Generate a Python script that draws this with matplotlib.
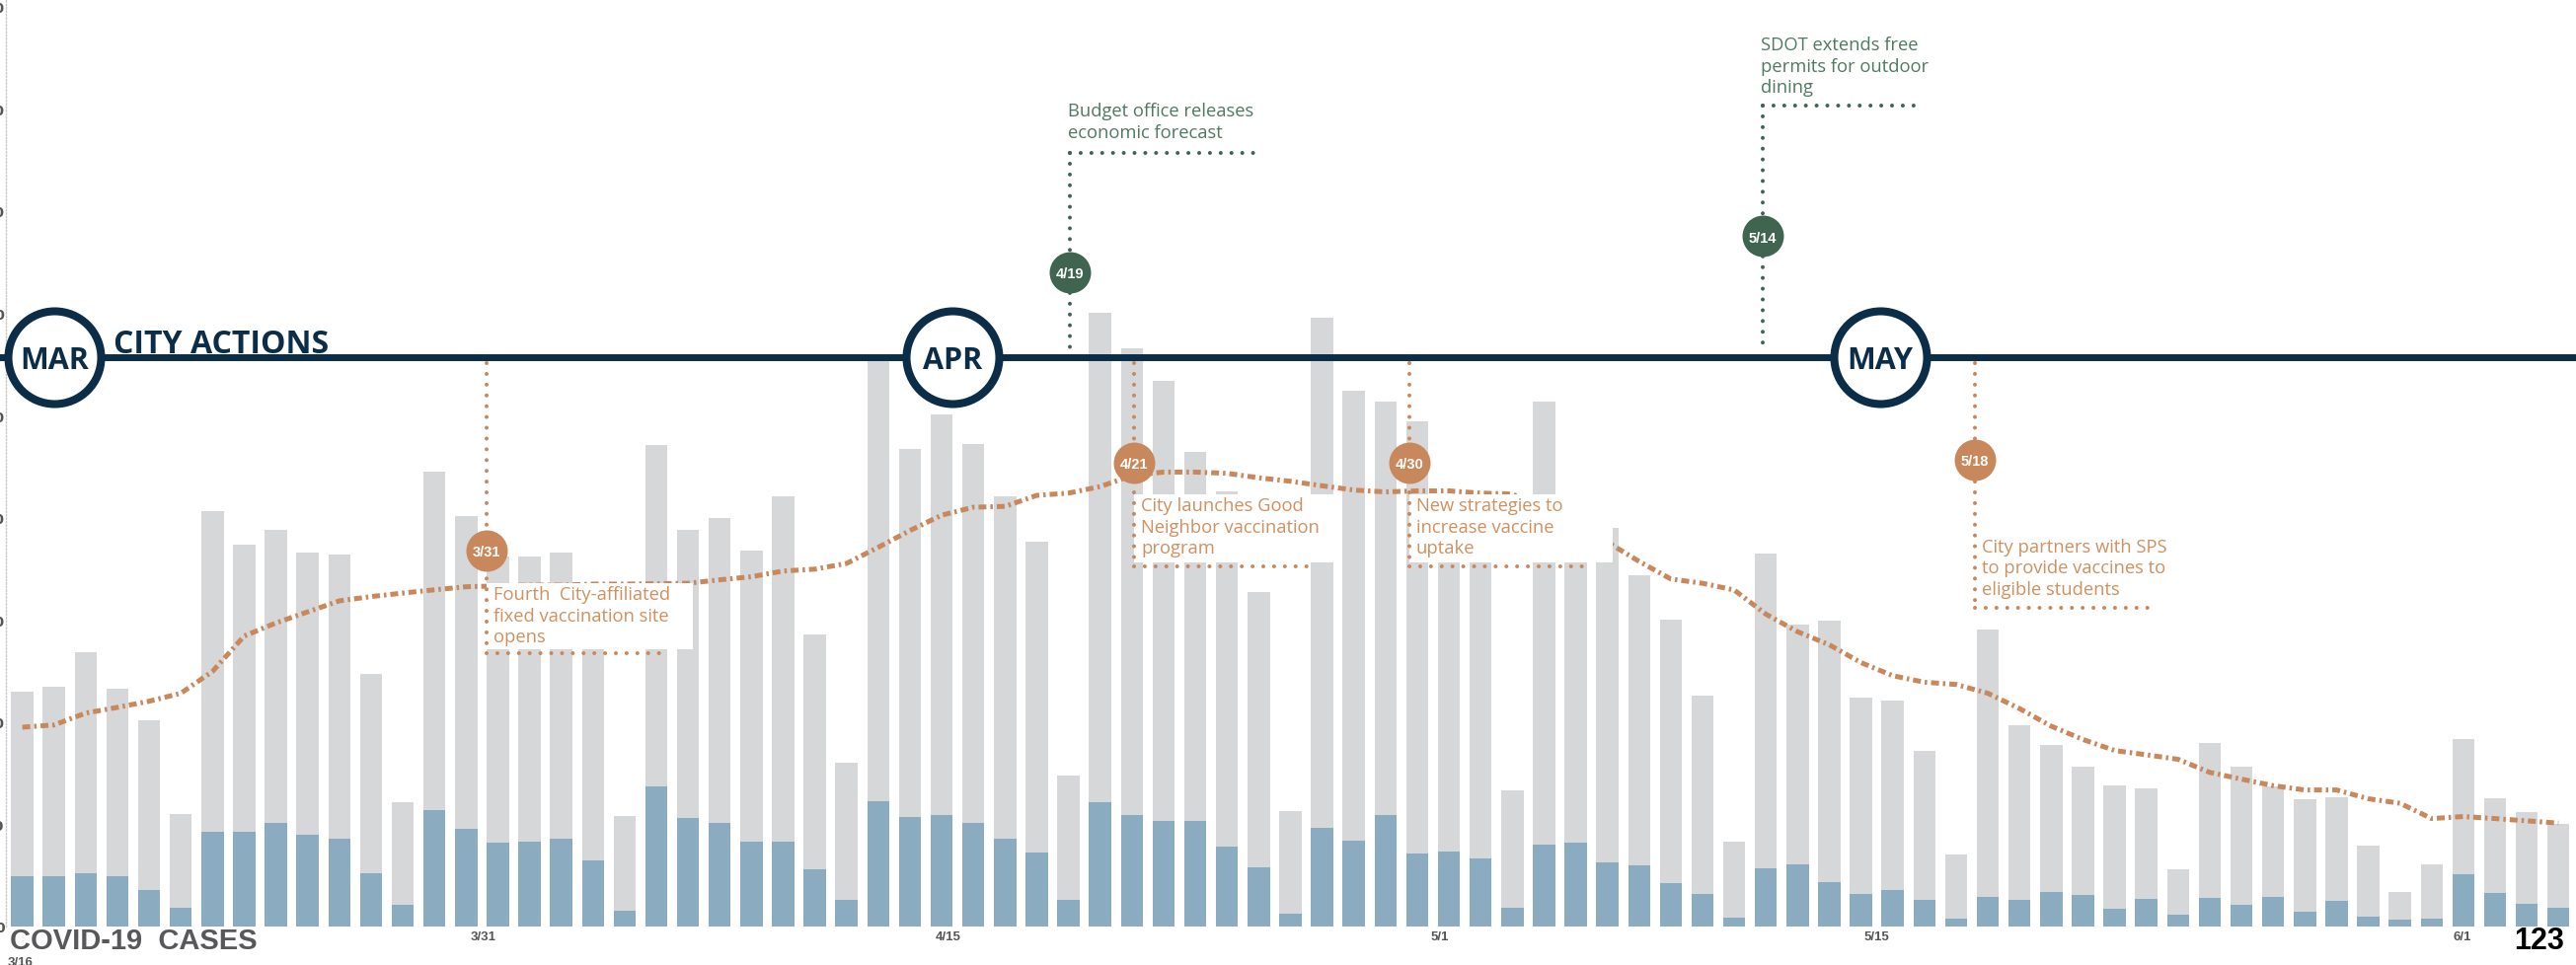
import matplotlib.pyplot as plt
from matplotlib.patches import Rectangle
from matplotlib import font_manager

# Casos diarios (barras grises), subconjunto (barras azules) y media móvil
gris = [115, 117.5, 134, 116.5, 101, 55, 203, 187, 194, 183,
        182, 123.5, 60.7, 222.5, 201, 181, 181, 183, 150, 54,
        235.4, 194, 199.7, 183.8, 210.3, 142.7, 80, 278.5, 233.5, 250.7,
        236.1, 210.3, 188, 74, 300, 282.6, 266.9, 232, 213, 163.8,
        56.6, 297.8, 262.3, 256.7, 246.9, 195, 200, 66.8, 256.7, 205,
        195, 172, 150, 112.8, 41.4, 182.3, 147.9, 149.4, 112, 110.6,
        86.1, 35.1, 145.3, 98.6, 88.7, 78.4, 68.9, 67.8, 28.2, 90,
        78.4, 68.5, 62.4, 63.3, 39.8, 16.8, 30.2, 91.5, 62.9, 56, 50]
azul = [24.8, 24.4, 26.3, 24.8, 17.9, 9.1, 46.1, 46.5, 50.6, 45,
        42.8, 26.3, 10.4, 57, 48, 40.9, 41.4, 43.1, 32.3, 7.8,
        68.7, 53.2, 50.6, 41.4, 41.4, 28.2, 13, 61.2, 53.8, 54.3,
        50.6, 43.1, 36.4, 13, 60.7, 54.7, 51.7, 51.7, 39.2, 28.9,
        6.1, 48.5, 42, 54.3, 35.5, 36.6, 33.4, 9.3, 40.3, 41,
        31.3, 29.7, 21.1, 16, 4.4, 28.4, 30.2, 21.6, 16, 17.9,
        13, 3.9, 14.5, 13, 16.8, 15.3, 8.7, 13.6, 5.9, 14.2,
        10.8, 14.5, 7.4, 12.7, 4.6, 3.5, 3.9, 25.7, 16.6, 11.2, 9.1]
media = [97.5, 98.6, 104.4, 107.2, 110.2, 114.1, 124.8, 142.1, 148.5, 153.9,
         159.3, 161.4, 163.1, 164.7, 166.2, 166.6, 167, 167, 167.5, 167.5,
         167.7, 167.9, 169.6, 171.1, 173.9, 174.8, 177.6, 185.5, 193.7, 201.2,
         205.1, 205.5, 210.9, 212, 215.2, 220.6, 222.3, 222.3, 221.7, 219.5,
         217.8, 215.6, 213.5, 212.6, 213.1, 213.1, 212, 211.6, 204, 196,
         188, 178.6, 170, 167.9, 164.6, 152.8, 144.2, 137.8, 129.1, 122.7,
         119.5, 118.4, 114.1, 106.6, 98, 91.5, 86.1, 84, 81.8, 75.4,
         72.1, 68.9, 66.8, 66.8, 62.5, 60.3, 52.8, 53.8, 52.8, 51.7, 50.6]
dias = list(range(len(gris)))

fechas = ["3/31", "4/15", "5/1", "5/15", "6/1"]
fechas_x = [14.55, 29.22, 44.72, 58.48, 76.97]

meses = ["MAR", "APR", "MAY"]
meses_x = [1.01, 29.34, 58.61]
y_linea = 278.5

# (fecha, x, y del círculo, y de la línea horizontal, x final, texto, y del texto, x final del recuadro)
eventos_naranja = [
    ("3/31", 14.65, 183.9, 133.7, 20.31, "Fourth  City-affiliated\nfixed vaccination site\nopens", 167.0, 21.15),
    ("4/21", 35.07, 226.8, 176.2, 40.70, "City launches Good\nNeighbor vaccination\nprogram", 210.4, 41.55),
    ("4/30", 43.75, 226.8, 176.2, 49.39, "New strategies to\nincrease vaccine\nuptake", 210.4, 50.17),
    ("5/18", 61.59, 228.3, 155.9, 67.23, "City partners with SPS\nto provide vaccines to\neligible students", 190.2, 67.6),
]
eventos_verde = [
    ("4/19", 33.05, 320.0, 378.4, 38.96, "Budget office releases\neconomic forecast", 403.5),
    ("5/14", 54.90, 337.8, 401.5, 59.91, "SDOT extends free\npermits for outdoor\ndining", 435.8),
]

NAVY = "#0B2D48"
GRIS = "#D5D7D8"
AZUL = "#8BABC1"
NARANJA = "#C8885C"
NARANJA_TXT = "#D0905F"
VERDE = "#3F6551"
VERDE_TXT = "#4E7A62"

fuentes = {f.name for f in font_manager.fontManager.ttflist}
ANGOSTA = "Liberation Sans Narrow" if "Liberation Sans Narrow" in fuentes else "Liberation Sans"

W, H, DPI = 2610, 979, 100
fig = plt.figure(figsize=(W / DPI, H / DPI), dpi=DPI)
ax = fig.add_axes([6 / W, 39 / H, 1 - 6 / W, 940 / H])
ax.set_xlim(-0.517, 80.553)
ax.set_ylim(0, 453.7)

# barras
ax.bar(dias, gris, width=0.7, color=GRIS, zorder=1)
ax.bar(dias, azul, width=0.7, color=AZUL, zorder=2)
ax.plot(dias, media, color=NARANJA, lw=3.6, ls=(0, (1.6, 0.8, 0.5, 0.8)), zorder=3)

# ejes
for lado in ["top", "right", "bottom"]:
    ax.spines[lado].set_visible(False)
ax.spines["left"].set_linestyle((0, (1, 1.5)))
ax.spines["left"].set_color("#c9c9c9")
ax.spines["left"].set_linewidth(1)
ax.set_xticks([])
ax.set_yticks(range(0, 451, 50))
ax.tick_params(axis="y", length=0, pad=1, labelsize=10, labelcolor="#555555")
for lab in ax.get_yticklabels():
    lab.set_fontweight("bold")

for f, x in zip(fechas, fechas_x):
    ax.text(x, -4.8, f, ha="center", va="center", fontsize=9.5, fontweight="bold",
            family=ANGOSTA, color="#555555", clip_on=False)
ax.text(-0.05, -14.5, "3/16", ha="center", va="top", fontsize=9.5, fontweight="bold",
        family=ANGOSTA, color="#555555", clip_on=False)

# línea de tiempo
ax.plot([-1, 82], [y_linea, y_linea], color=NAVY, lw=5, zorder=5, clip_on=False,
        solid_capstyle="butt")
for m, x in zip(meses, meses_x):
    ax.plot(x, y_linea, "o", ms=67.7, mfc="white", mec=NAVY, mew=5.8, zorder=6, clip_on=False)
    ax.text(x, y_linea - 5.3, m, ha="center", va="baseline", fontsize=22, fontweight="bold",
            family="Open Sans", color=NAVY, zorder=7)
ax.text(2.88, 280.9, "CITY ACTIONS", ha="left", va="baseline", fontsize=23, fontweight="bold",
        family="Open Sans", color=NAVY, zorder=7)

puntos = dict(lw=2.9, ls=(0, (0.01, 2.7)), dash_capstyle="round", zorder=7, clip_on=False)

for fecha, x, yc, yh, x2, texto, yt, xr in eventos_naranja:
    ax.add_patch(Rectangle((x, yh + 1.9), xr - x, yt + 0.8 - (yh + 1.9), fc="white", ec="none", zorder=4))
    ax.plot([x, x], [y_linea - 3, yh], color=NARANJA, **puntos)
    ax.plot([x, x2], [yh, yh], color=NARANJA, **puntos)
    ax.plot(x, yc, "o", ms=30.2, color=NARANJA, mew=0, zorder=8)
    ax.text(x, yc - 2.6, fecha, ha="center", va="baseline", fontsize=10.5, fontweight="bold",
            family="Liberation Sans", color="white", zorder=9)
    ax.text(x + 0.22, yt, texto, ha="left", va="top", fontsize=13.2, family="Open Sans",
            color=NARANJA_TXT, linespacing=1.25, zorder=9)

for fecha, x, yc, yh, x2, texto, yt in eventos_verde:
    ax.plot([x, x], [yh, y_linea + 2.4], color=VERDE, **puntos)
    ax.plot([x, x2], [yh, yh], color=VERDE, **puntos)
    ax.plot(x, yc, "o", ms=30.2, color=VERDE, mew=0, zorder=8)
    ax.text(x, yc - 2.6, fecha, ha="center", va="baseline", fontsize=10.5, fontweight="bold",
            family="Liberation Sans", color="white", zorder=9)
    ax.text(x - 0.07, yt, texto, ha="left", va="top", fontsize=13.2, family="Open Sans",
            color=VERDE_TXT, linespacing=1.25, zorder=9)

fig.text(10 / W, (H - 962) / H, "COVID-19  CASES", ha="left", va="baseline", fontsize=21,
         fontweight="bold", family="Liberation Sans", color="#58585B")
fig.text(2547 / W, (H - 962) / H, "123", ha="left", va="baseline", fontsize=22,
         fontweight="bold", family="Liberation Sans", color="black")

fig.savefig("out.png", dpi=DPI)
